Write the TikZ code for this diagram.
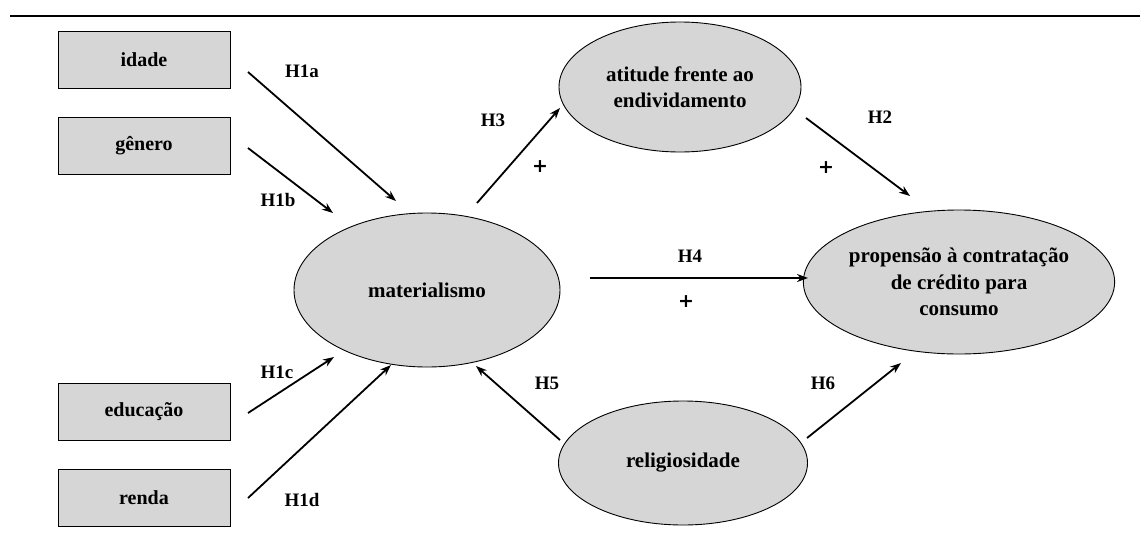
\documentclass[tikz,border=0pt]{standalone}
\usepackage{fontspec}
\setmainfont{Liberation Serif}
\newfontfamily\plusfont{DejaVu Sans}
\usetikzlibrary{shapes.geometric,arrows.meta}
\definecolor{boxgray}{RGB}{214,214,214}
\tikzset{
  varbox/.style={draw=black, line width=0.9pt, fill=boxgray, minimum width=172pt, minimum height=57pt, inner sep=0pt,
    font=\fontsize{20}{24}\selectfont\bfseries},
  construct/.style={ellipse, draw=black, line width=0.9pt, fill=boxgray, inner sep=0pt, align=center,
    font=\fontsize{21}{26.5}\selectfont\bfseries},
  hyp/.style={font=\fontsize{19}{22}\selectfont\bfseries, inner sep=0pt},
  plus/.style={font=\plusfont\fontsize{19}{22}\selectfont\bfseries, inner sep=0pt},
  arr/.style={line width=1.8pt, -{Stealth[length=11pt,width=8pt]}}
}
\begin{document}
\begin{tikzpicture}[x=1pt,y=-1pt]
\useasboundingbox (0,0) rectangle (1140,533);
\fill[white] (0,0) rectangle (1140,533);
\draw[line width=1.6pt] (10,16) coordinate (tl) -- (1140,16) coordinate (tr);

% boxes
\node[varbox] (idade) at (144,60) {idade};
\node[varbox] (genero) at (144,146) {gênero};
\node[varbox] (educ) at (144,412) {educação};
\node[varbox] (renda) at (144,498) {renda};

% ellipses
\node[construct, minimum width=266pt, minimum height=154pt] (mat) at (427,290) {materialismo};
\node[construct, minimum width=242pt, minimum height=130pt] (atit) at (680,87) {atitude frente ao\\endividamento};
\node[construct, minimum width=268pt, minimum height=144pt] (prop) at (959,282) {propensão à contratação\\de crédito para\\consumo};
\node[construct, minimum width=249pt, minimum height=124pt] (relig) at (683,463) {religiosidade};

% arrow endpoints
\coordinate (a1s) at (248,72);  \coordinate (a1e) at (396,201);
\coordinate (b1s) at (248,148); \coordinate (b1e) at (333,213);
\coordinate (c1s) at (248,413); \coordinate (c1e) at (334,357);
\coordinate (d1s) at (248,498); \coordinate (d1e) at (391,365);
\coordinate (h3s) at (477,203); \coordinate (h3e) at (560,108);
\coordinate (h2s) at (806,118); \coordinate (h2e) at (910,196);
\coordinate (h4s) at (590,278); \coordinate (h4e) at (808,278);
\coordinate (h5s) at (560,440); \coordinate (h5e) at (476,366);
\coordinate (h6s) at (807,438); \coordinate (h6e) at (901,363);

\draw[arr] (a1s) -- (a1e);
\draw[arr] (b1s) -- (b1e);
\draw[arr] (c1s) -- (c1e);
\draw[arr] (d1s) -- (d1e);
\draw[arr] (h3s) -- (h3e);
\draw[arr] (h2s) -- (h2e);
\draw[arr] (h4s) -- (h4e);
\draw[arr] (h5s) -- (h5e);
\draw[arr] (h6s) -- (h6e);

% labels
\node[hyp] (l1a) at (302,71) {H1a};
\node[hyp] (l1b) at (278,200) {H1b};
\node[hyp] (l1c) at (277,372) {H1c};
\node[hyp] (l1d) at (302,500) {H1d};
\node[hyp] (l3) at (493,120) {H3};
\node[hyp] (l2) at (880,117) {H2};
\node[hyp] (l4) at (690,256) {H4};
\node[hyp] (l5) at (547,383) {H5};
\node[hyp] (l6) at (823,383) {H6};
\node[plus] (p3) at (540,167) {+};
\node[plus] (p2) at (826,168) {+};
\node[plus] (p4) at (686,302) {+};
\end{tikzpicture}
\end{document}
